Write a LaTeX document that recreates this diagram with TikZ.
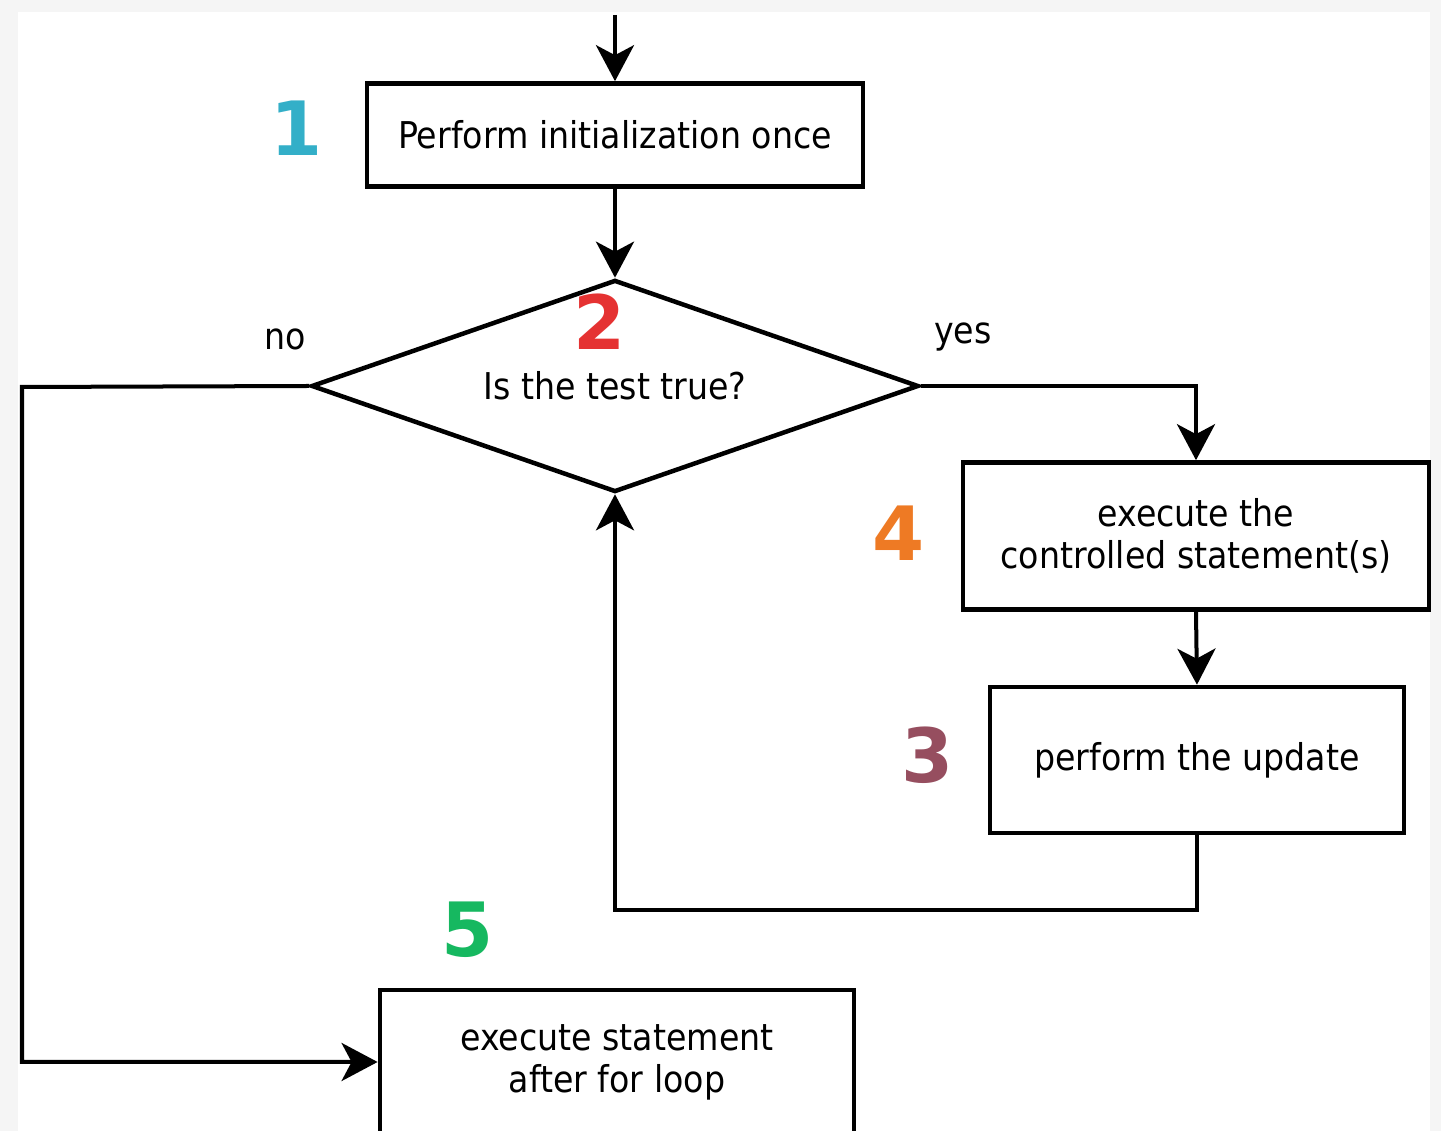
\documentclass[tikz,border=0pt]{standalone}
\usepackage{fontspec}
\setmainfont{DejaVu Sans}[FakeStretch=0.9]
\newfontfamily\numfont{DejaVu Sans}
\usetikzlibrary{shapes.geometric,arrows.meta}
\definecolor{numone}{RGB}{51,175,200}
\definecolor{numtwo}{RGB}{229,50,50}
\definecolor{numthree}{RGB}{150,78,95}
\definecolor{numfour}{RGB}{238,122,36}
\definecolor{numfive}{RGB}{22,184,96}
\definecolor{paper}{RGB}{245,245,245}
\begin{document}
\begin{tikzpicture}[x=0.01cm, y=-0.01cm, line join=miter, >={Stealth[length=0.36cm,width=0.38cm,inset=0.1cm]},
	font=\fontsize{10.5pt}{12pt}\selectfont,
	box/.style={draw, line width=0.045cm, rectangle, inner sep=0pt, align=center},
	test/.style={draw, line width=0.045cm, diamond, shape aspect=2.86, inner sep=0pt, minimum width=6.07cm, minimum height=2.12cm},
	flow/.style={line width=0.04cm},
	num/.style={font=\numfont\bfseries\fontsize{21.3pt}{24pt}\selectfont}]
			\clip (0,0) rectangle (1441,1131);
			\fill[paper] (0,0) rectangle (1441,1131);
			\fill[white] (18,12) rectangle (1430,1131);
			\coordinate (start) at (615,15);
			\node[box, minimum width=4.96cm, minimum height=1.03cm] (init) at (615,135) {Perform initialization once};
			\node[test] (cond) at (615,386) {Is the test true?};
			\node[box, minimum width=4.66cm, minimum height=1.47cm] (body) at (1196,536) {execute the\\controlled statement(s)};
			\node[box, minimum width=4.14cm, minimum height=1.46cm] (update) at (1197,760) {perform the update};
			\node[box, minimum width=4.74cm, minimum height=1.44cm] (after) at (617,1062) {execute statement\\after for loop};
			\coordinate (noturn) at (22,387);
			\coordinate (back) at (1197,910);
			\node (no) at (285,339) {no};
			\node (yes) at (963,337) {yes};
			\node[num, text=numone] (one) at (297,128) {1};
			\node[num, text=numtwo] (two) at (600,322) {2};
			\node[num, text=numthree] (three) at (928,755) {3};
			\node[num, text=numfour] (four) at (899,533) {4};
			\node[num, text=numfive] (five) at (468,930) {5};
			\draw[flow,->] (start) -- (init.north);
			\draw[flow,->] (init.south) -- (cond.north);
			\draw[flow,->] (cond.east) -| (body.north);
			\draw[flow,->] (body.south) -- (update.north);
			\draw[flow,->] (update.south) -- (back) -| (cond.south);
			\draw[flow,->] (cond.west) -- (noturn) |- (after.west);
		\end{tikzpicture}
\end{document}
